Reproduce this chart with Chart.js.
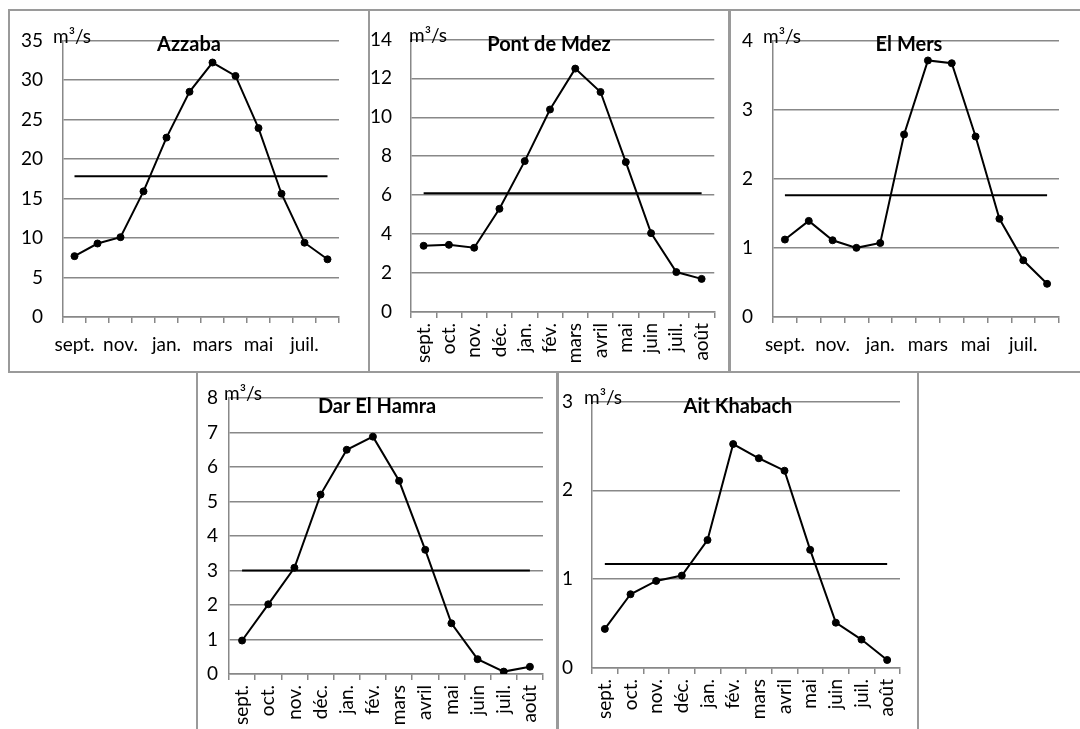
<!DOCTYPE html>
<html>
<head>
<meta charset="utf-8">
<script src="https://cdn.jsdelivr.net/npm/chart.js@4/dist/chart.umd.min.js"></script>
<style>
  html, body { margin: 0; padding: 0; background: #fff; }
  body { width: 1080px; height: 729px; position: relative; overflow: hidden; }
  .frame { position: absolute; box-sizing: border-box; border: 2px solid #9a9a9a; }
  canvas { position: absolute; }
</style>
</head>
<body>
<script>
// mean monthly flows (m3/s), september -> august
const months = ['sept.', 'oct.', 'nov.', 'déc.', 'jan.', 'fév.', 'mars', 'avril', 'mai', 'juin', 'juil.', 'août'];
const stations = ['Azzaba', 'Pont de Mdez', 'El Mers', 'Dar El Hamra', 'Ait Khabach'];

const azzaba     = [7.7, 9.3, 10.1, 15.9, 22.7, 28.5, 32.2, 30.5, 23.9, 15.6, 9.4, 7.3];
const pontDeMdez = [3.4, 3.45, 3.3, 5.3, 7.75, 10.4, 12.5, 11.3, 7.7, 4.05, 2.05, 1.7];
const elMers     = [1.12, 1.39, 1.11, 1.0, 1.07, 2.64, 3.71, 3.67, 2.61, 1.42, 0.82, 0.48];
const darElHamra = [0.97, 2.02, 3.08, 5.2, 6.5, 6.88, 5.6, 3.6, 1.47, 0.43, 0.07, 0.21];
const aitKhabach = [0.44, 0.83, 0.98, 1.04, 1.44, 2.52, 2.36, 2.22, 1.33, 0.51, 0.32, 0.09];

const means = [17.8, 6.1, 1.76, 3.0, 1.17];
const yMax  = [35, 14, 4, 8, 3];
const yStep = [5, 2, 1, 1, 1];

const series = [azzaba, pontDeMdez, elMers, darElHamra, aitKhabach];

// layout of each panel on the page
const panels = [
  { frame: [8, 9, 362, 364],   plot: [63, 37, 339, 317],  rotate: false, yPad: 20, unitDx: -10 },
  { frame: [368, 9, 362, 364], plot: [411, 34, 716, 312], rotate: true,  yPad: 19, unitDx: -2 },
  { frame: [729, 9, 360, 364], plot: [773, 37, 1059, 317], rotate: false, yPad: 20, unitDx: -10 },
  { frame: [196, 371, 362, 380], plot: [229, 398, 551, 674], rotate: true, yPad: 11, unitDx: -5 },
  { frame: [557, 371, 362, 380], plot: [592, 397, 900, 668], rotate: true, yPad: 19, unitDx: -8 }
];

const FONT = 'Lato, "Open Sans", sans-serif';
const GRID = '#888888';

const labelsPlugin = {
  id: 'panelLabels',
  afterDraw(chart, args, opts) {
    const ctx = chart.ctx;
    const area = chart.chartArea;
    ctx.save();
    ctx.fillStyle = '#000';
    ctx.textBaseline = 'middle';
    ctx.textAlign = 'center';
    ctx.font = 'bold 20px ' + FONT;
    ctx.fillText(opts.title, chart.width / 2, 36);
    ctx.textAlign = 'left';
    ctx.font = '19px ' + FONT;
    ctx.fillText('m³/s', area.left + opts.unitDx, area.top - 4);
    ctx.restore();
  }
};

panels.forEach(function(p, i) {
  const [fx, fy, fw, fh] = p.frame;
  const [l, t, r, b] = p.plot;

  const div = document.createElement('div');
  div.className = 'frame';
  div.style.left = fx + 'px';
  div.style.top = fy + 'px';
  div.style.width = fw + 'px';
  div.style.height = fh + 'px';
  document.body.appendChild(div);

  const canvas = document.createElement('canvas');
  canvas.width = fw;
  canvas.height = fh;
  canvas.style.left = fx + 'px';
  canvas.style.top = fy + 'px';
  document.body.appendChild(canvas);

  new Chart(canvas.getContext('2d'), {
    type: 'line',
    data: {
      labels: months,
      datasets: [{
        data: series[i],
        borderColor: '#000',
        borderWidth: 2,
        pointRadius: 3.5,
        pointBorderWidth: 1,
        pointBackgroundColor: '#000',
        pointBorderColor: '#000',
        tension: 0
      }, {
        data: months.map(() => means[i]),
        borderColor: '#000',
        borderWidth: 2,
        pointRadius: 0,
        tension: 0
      }]
    },
    options: {
      responsive: false,
      animation: false,
      devicePixelRatio: 1,
      layout: { padding: { left: 0, top: t - fy, right: fx + fw - r, bottom: 0 } },
      plugins: {
        legend: { display: false },
        tooltip: { enabled: false },
        panelLabels: { title: stations[i], unitDx: p.unitDx }
      },
      scales: {
        x: {
          offset: true,
          grid: {
            offset: true,
            drawOnChartArea: false,
            drawTicks: true,
            tickLength: 6,
            color: GRID,
            lineWidth: 1.5
          },
          border: { color: GRID, width: 1.5 },
          ticks: {
            autoSkip: false,
            minRotation: p.rotate ? 90 : 0,
            maxRotation: p.rotate ? 90 : 0,
            padding: p.rotate ? 5 : 10,
            color: '#000',
            font: { family: FONT, size: 19 },
            callback: function(v, idx) {
              if (!p.rotate && idx % 2) return '';
              return months[idx];
            }
          },
          afterFit: function(s) { s.height = fy + fh - b; }
        },
        y: {
          min: 0,
          max: yMax[i],
          grid: {
            drawTicks: false,
            color: GRID,
            lineWidth: 1.5
          },
          border: { color: GRID, width: 1.5 },
          ticks: {
            stepSize: yStep[i],
            padding: p.yPad,
            color: '#000',
            font: { family: FONT, size: 19 }
          },
          afterFit: function(s) { s.width = l - fx; }
        }
      }
    },
    plugins: [labelsPlugin]
  });
});
</script>
</body>
</html>
